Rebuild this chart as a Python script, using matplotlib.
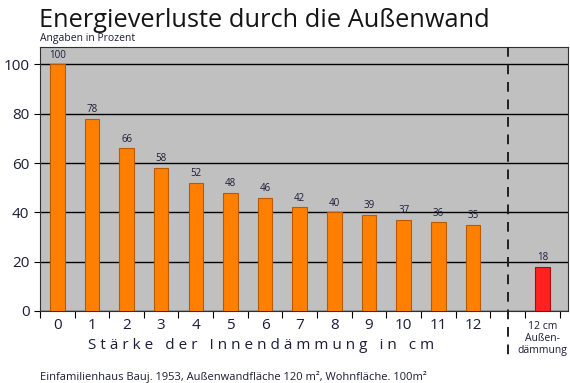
import matplotlib
matplotlib.use("Agg")
import matplotlib.pyplot as plt

# --- Daten
dicken = list(range(13))  # Innendämmung in cm
verluste = [100, 78, 66, 58, 52, 48, 46, 42, 40, 39, 37, 36, 35]
aussen_pos = 14
aussen_wert = 18
trenn_pos = 13

textfarbe = "#1c1c3a"
plt.rcParams["font.family"] = ["Open Sans", "DejaVu Sans"]

fig = plt.figure(figsize=(5.7, 3.83), dpi=100)
ax = fig.add_axes([0.070, 0.188, 0.927, 0.689])
ax.set_facecolor("#c0c0c0")

# --- Balken
ax.bar(dicken, verluste, width=0.42, color="#ff7f00", edgecolor="#b85a00", linewidth=0.8, zorder=3)
ax.bar([aussen_pos], [aussen_wert], width=0.42, color="#ff2020", edgecolor="#a01010", linewidth=0.8, zorder=3)

for x, v in zip(dicken + [aussen_pos], verluste + [aussen_wert]):
    ax.text(x, v + 1.5, str(v), ha="center", va="bottom", fontsize=7, color=textfarbe, zorder=4)

# --- Achsen
ax.set_xlim(-0.5, 14.75)
ax.set_ylim(0, 107)
ax.set_yticks([0, 20, 40, 60, 80, 100])
ax.tick_params(axis="y", labelsize=11, labelcolor=textfarbe, length=4)
ax.yaxis.grid(True, color="black", linewidth=1.0, zorder=1)
ax.set_axisbelow(True)

ax.set_xticks([i + 0.5 for i in range(-1, 15)])
ax.set_xticklabels([])
ax.tick_params(axis="x", which="major", length=5)
ax.set_xticks(dicken, minor=True)
ax.set_xticklabels([str(d) for d in dicken], minor=True)
ax.tick_params(axis="x", which="minor", length=0, labelsize=11, labelcolor=textfarbe, pad=5)

for s in ax.spines.values():
    s.set_color("#303030")
    s.set_linewidth(0.8)

# gestrichelte Trennlinie
ax.plot([trenn_pos, trenn_pos], [107, -18], ls=(0, (5, 4)), color="#202020", lw=1.4,
        clip_on=False, zorder=5)

ax.text(aussen_pos, -4, "12 cm\nAußen-\ndämmung", ha="center", va="top", fontsize=7.5,
        color=textfarbe, linespacing=1.15)

# --- Texte
fig.text(0.068, 0.929, "Energieverluste durch die Außenwand", fontsize=18.3, color="#151515",
         ha="left", va="baseline")
fig.text(0.070, 0.893, "Angaben in Prozent", fontsize=7.5, color=textfarbe, ha="left", va="baseline")
fig.text(0.458, 0.097, "S t ä r k e   d e r   I n n e n d ä m m u n g   i n   c m", fontsize=11,
         color=textfarbe, ha="center", va="center")
fig.text(0.070, 0.008, "Einfamilienhaus Bauj. 1953, Außenwandfläche 120 m², Wohnfläche. 100m²",
         fontsize=8, color=textfarbe, ha="left", va="baseline")

fig.savefig("out.png", dpi=100)
